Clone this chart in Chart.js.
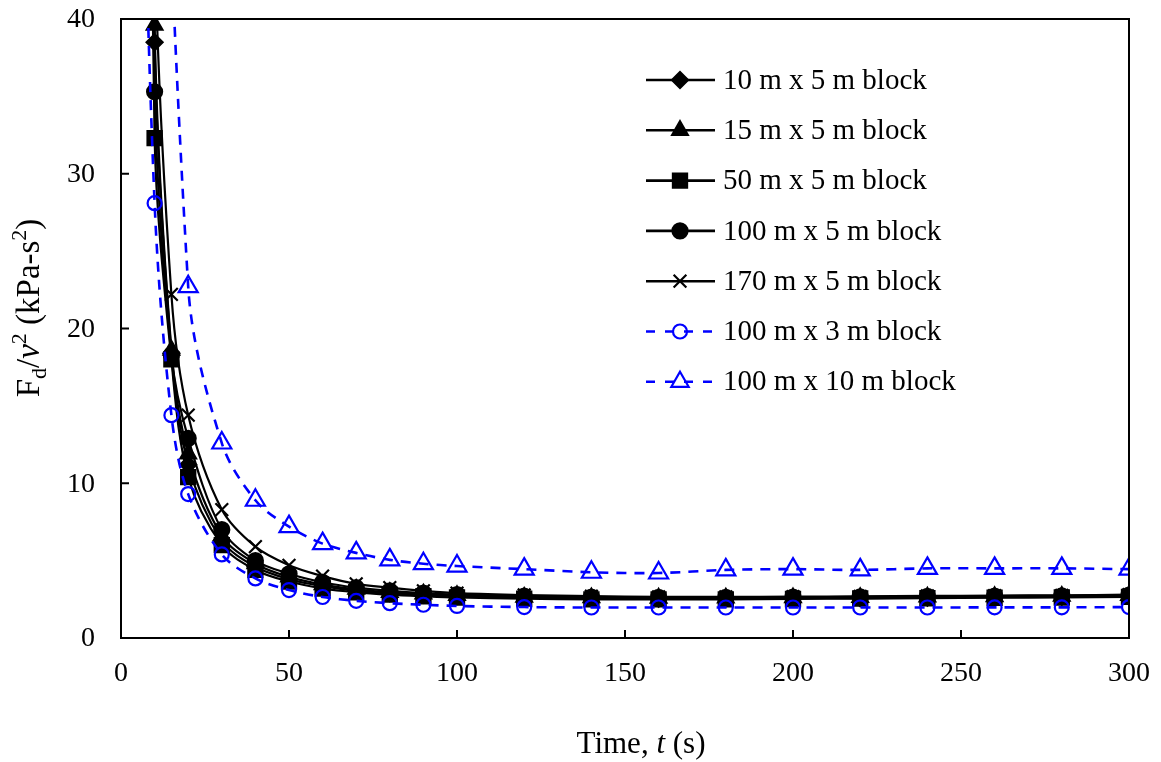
<!DOCTYPE html>
<html>
<head>
<meta charset="utf-8">
<script src="https://cdn.jsdelivr.net/npm/chart.js@4/dist/chart.umd.min.js"></script>
<style>
  html, body { margin: 0; padding: 0; background: #fff; }
  #wrap { width: 1161px; height: 762px; position: relative; }
</style>
</head>
<body>
<div id="wrap"><canvas id="myChart" width="1161" height="762"></canvas></div>
<script>
// time points (s)
const times = [5, 10, 15, 20, 30, 40, 50, 60, 70, 80, 90, 100, 120, 140, 160, 180, 200, 220, 240, 260, 280, 300];

// Fd/v^2 (kPa-s^2); first points sit above the 40 limit
const block10x5  = [130, 38.5, 18.4, 11.2, 6.3, 4.6, 3.8, 3.35, 3.05, 2.9, 2.8, 2.72, 2.6, 2.55, 2.54, 2.55, 2.56, 2.58, 2.61, 2.64, 2.67, 2.72];
const block15x5  = [140, 39.6, 18.6, 11.9, 6.6, 4.8, 3.95, 3.45, 3.15, 2.95, 2.85, 2.75, 2.64, 2.6, 2.58, 2.59, 2.6, 2.62, 2.65, 2.68, 2.7, 2.75];
const block50x5  = [120, 32.3, 18.0, 10.4, 6.0, 4.4, 3.65, 3.2, 2.95, 2.8, 2.7, 2.62, 2.54, 2.5, 2.5, 2.5, 2.52, 2.55, 2.57, 2.6, 2.62, 2.66];
const block100x5 = [125, 35.3, 18.3, 12.9, 7.0, 5.0, 4.15, 3.6, 3.25, 3.05, 2.9, 2.8, 2.7, 2.65, 2.63, 2.63, 2.64, 2.66, 2.69, 2.71, 2.73, 2.78];
const block170x5 = [160, 46, 22.2, 14.4, 8.3, 5.9, 4.7, 4.0, 3.5, 3.25, 3.05, 2.9, 2.78, 2.7, 2.66, 2.66, 2.67, 2.69, 2.72, 2.74, 2.76, 2.8];
const block100x3 = [65, 28.1, 14.4, 9.3, 5.4, 3.85, 3.1, 2.65, 2.4, 2.25, 2.15, 2.07, 2.0, 1.97, 1.97, 1.97, 1.97, 1.97, 1.97, 1.98, 1.98, 2.0];
const block100x10 = [250, 85, null, 22.7, 12.6, 8.9, 7.2, 6.1, 5.5, 5.05, 4.8, 4.65, 4.45, 4.25, 4.2, 4.4, 4.45, 4.4, 4.5, 4.5, 4.5, 4.45];

const labels = ['10 m x 5 m block', '15 m x 5 m block', '50 m x 5 m block', '100 m x 5 m block',
                '170 m x 5 m block', '100 m x 3 m block', '100 m x 10 m block'];
const xTicks = [0, 50, 100, 150, 200, 250, 300];
const yTicks = [0, 10, 20, 30, 40];

const FONT = '"Liberation Serif", "Times New Roman", serif';
const BLUE = '#0000ff';

const pts = (ys) => times.map((t, i) => ({ x: t, y: ys[i] }));

const styles = [
  { data: block10x5,  style: 'rectRot',  r: 8,   fill: '#000', color: '#000', dash: [], w: 2.2 },
  { data: block15x5,  style: 'triangle', r: 9,   fill: '#000', color: '#000', dash: [], w: 2.2 },
  { data: block50x5,  style: 'rect',     r: 10,  fill: '#000', color: '#000', dash: [], w: 2.2 },
  { data: block100x5, style: 'circle',   r: 7.5, fill: '#000', color: '#000', dash: [], w: 2.2 },
  { data: block170x5, style: 'crossRot', r: 9,   fill: '#000', color: '#000', dash: [], w: 2.2 },
  { data: block100x3, style: 'circle',   r: 7,   fill: 'rgba(0,0,0,0)', color: BLUE, dash: [10, 8], w: 2.6 },
  { data: block100x10, style: 'triangle', r: 11, fill: 'rgba(0,0,0,0)', color: BLUE, dash: [10, 8], w: 2.6 }
];

const datasets = styles.map((s, i) => ({
  label: labels[i],
  data: pts(s.data),
  borderColor: s.color,
  borderWidth: s.w,
  borderDash: s.dash,
  tension: 0.33,
  spanGaps: true,
  pointStyle: s.style,
  pointRadius: s.r,
  pointBackgroundColor: s.fill,
  pointBorderColor: s.color,
  pointBorderWidth: 2.2,
  fill: false,
  order: 10 - i
}));

// frame, inward tick marks, tick labels, axis titles and the legend
const decor = {
  id: 'decor',
  afterDraw(chart) {
    const ctx = chart.ctx;
    const a = chart.chartArea;
    const xs = chart.scales.x, ys = chart.scales.y;
    ctx.save();
    ctx.strokeStyle = '#000';
    ctx.lineWidth = 2;
    ctx.strokeRect(a.left, a.top, a.right - a.left, a.bottom - a.top);
    ctx.beginPath();
    xTicks.forEach(v => {
      const px = xs.getPixelForValue(v);
      ctx.moveTo(px, a.bottom); ctx.lineTo(px, a.bottom - 8);
    });
    yTicks.forEach(v => {
      const py = ys.getPixelForValue(v);
      ctx.moveTo(a.left, py); ctx.lineTo(a.left + 8, py);
    });
    ctx.stroke();

    ctx.fillStyle = '#000';
    ctx.font = '28px ' + FONT;
    ctx.textBaseline = 'middle';
    ctx.textAlign = 'center';
    xTicks.forEach(v => ctx.fillText(String(v), xs.getPixelForValue(v), a.bottom + 36));
    ctx.textAlign = 'right';
    yTicks.forEach(v => ctx.fillText(String(v), a.left - 26, ys.getPixelForValue(v) + 1));

    // x title
    ctx.textBaseline = 'alphabetic';
    const xRuns = [['Time, ', ''], ['t', 'italic '], [' (s)', '']];
    drawRuns(ctx, xRuns.map(r => ({ t: r[0], f: r[1] + '31px ' + FONT, dy: 0 })), 641, 753);

    // y title, rotated
    ctx.translate(39, 308);
    ctx.rotate(-Math.PI / 2);
    const big = '33px ' + FONT, small = '22px ' + FONT;
    drawRuns(ctx, [
      { t: 'F', f: big, dy: 0 },
      { t: 'd', f: small, dy: 7 },
      { t: '/', f: big, dy: 0 },
      { t: 'v', f: 'italic ' + big, dy: 0 },
      { t: '2', f: small, dy: -13 },
      { t: ' (kPa-s', f: big, dy: 0 },
      { t: '2', f: small, dy: -13 },
      { t: ')', f: big, dy: 0 }
    ], 0, 0);
    ctx.setTransform(1, 0, 0, 1, 0, 0);

    // legend
    styles.forEach((s, i) => {
      const y = 80 + i * 50.3;
      ctx.strokeStyle = s.color;
      ctx.lineWidth = s.dash.length ? s.w : 2.6;
      ctx.setLineDash(s.dash.length ? [9, 10] : []);
      ctx.beginPath();
      ctx.moveTo(646, y); ctx.lineTo(715, y);
      ctx.stroke();
      ctx.setLineDash([]);
      ctx.fillStyle = s.fill;
      ctx.lineWidth = 2.2;
      const lr = s.style === 'triangle' && s.fill !== '#000' ? 10 : s.r;
      Chart.helpers.drawPoint(ctx, { pointStyle: s.style, radius: lr, rotation: 0, borderWidth: 2.2 }, 680, y);
      ctx.fillStyle = '#000';
      ctx.font = '29px ' + FONT;
      ctx.textAlign = 'left';
      ctx.textBaseline = 'middle';
      ctx.fillText(labels[i], 723, y + 1);
    });
    ctx.restore();
  }
};

function drawRuns(ctx, runs, cx, base) {
  let w = 0;
  runs.forEach(r => { ctx.font = r.f; w += ctx.measureText(r.t).width; });
  let x = cx - w / 2;
  ctx.textAlign = 'left';
  runs.forEach(r => {
    ctx.font = r.f;
    ctx.fillText(r.t, x, base + r.dy);
    x += ctx.measureText(r.t).width;
  });
}

Chart.defaults.font.family = FONT;
Chart.defaults.color = '#000';

new Chart(document.getElementById('myChart').getContext('2d'), {
  type: 'line',
  data: { datasets },
  options: {
    responsive: false,
    animation: false,
    layout: { padding: { left: 0, top: 19, right: 32, bottom: 0 } },
    plugins: { legend: { display: false }, tooltip: { enabled: false } },
    scales: {
      x: {
        type: 'linear', min: 0, max: 300,
        grid: { display: false, drawTicks: false },
        border: { display: false },
        ticks: { display: false, stepSize: 50 },
        afterFit: (s) => { s.height = 124; }
      },
      y: {
        min: 0, max: 40,
        grid: { display: false, drawTicks: false },
        border: { display: false },
        ticks: { display: false, stepSize: 10 },
        afterFit: (s) => { s.width = 121; }
      }
    }
  },
  plugins: [decor]
});
</script>
</body>
</html>
